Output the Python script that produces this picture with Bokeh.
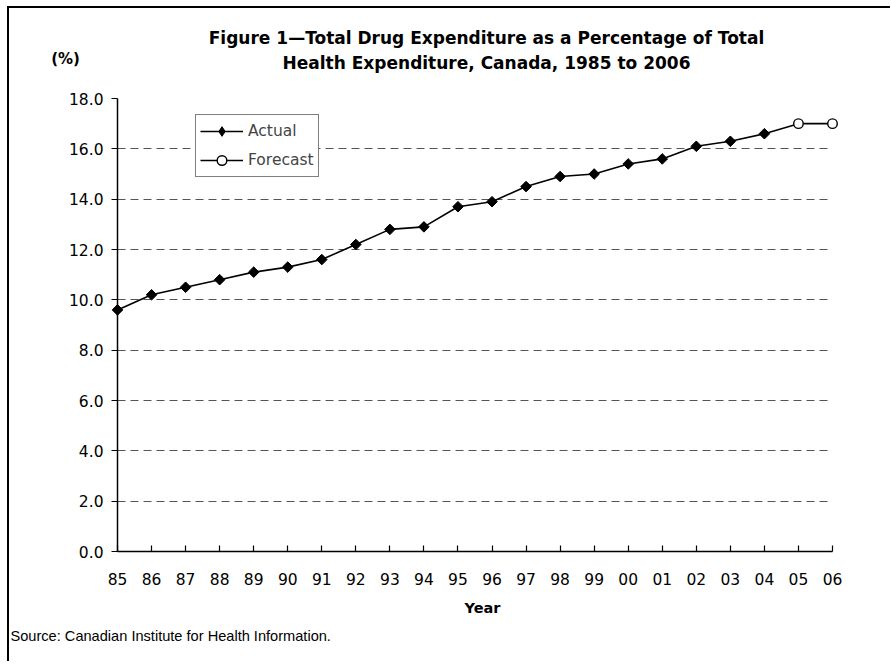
import math
from bokeh.plotting import figure
from bokeh.models import Range1d, FixedTicker, Legend, LegendItem
from bokeh.core.properties import value
from bokeh.embed import file_html
from bokeh.resources import INLINE

# ---- data ----
actual_years = list(range(1985, 2005))
actual_values = [9.6, 10.2, 10.5, 10.8, 11.1, 11.3, 11.6, 12.2, 12.8, 12.9,
                 13.7, 13.9, 14.5, 14.9, 15.0, 15.4, 15.6, 16.1, 16.3, 16.6]
forecast_years = [2005, 2006]
forecast_values = [17.0, 17.0]
x_ticks = list(range(1985, 2007))
x_tick_labels = ["85", "86", "87", "88", "89", "90", "91", "92", "93", "94", "95",
                 "96", "97", "98", "99", "00", "01", "02", "03", "04", "05", "06"]
y_ticks = [0, 2, 4, 6, 8, 10, 12, 14, 16, 18]
y_tick_labels = ["0.0", "2.0", "4.0", "6.0", "8.0", "10.0", "12.0", "14.0", "16.0", "18.0"]
title_lines = ["Figure 1\u2014Total Drug Expenditure as a Percentage of Total",
               "Health Expenditure, Canada, 1985 to 2006"]
y_unit_text = "(%)"
x_axis_title = "Year"
source_text = "Source: Canadian Institute for Health Information."

FONT = "DejaVu Sans"
X0, X1 = x_ticks[0], x_ticks[-1]
Y0, Y1 = y_ticks[0], y_ticks[-1]

# ---- layout (pixels) ----
FW, FH = 715, 453          # plot frame size
BL, BT = 108, 90           # borders left / top inside canvas
CX, CY = 9, 8              # canvas origin on the page (margin + outline)
FRAME_LEFT, FRAME_BOTTOM = CX + BL, CY + BT + FH


def page_to_data(px, py):
    """Convert a page-pixel position (for text placement) into data space."""
    dx = X0 + (px - FRAME_LEFT) / FW * (X1 - X0)
    dy = Y0 + (FRAME_BOTTOM - py) / FH * (Y1 - Y0)
    return dx, dy


p = figure(frame_width=FW, frame_height=FH,
           min_border_left=BL, min_border_right=58,
           min_border_top=BT, min_border_bottom=110,
           x_range=Range1d(X0, X1), y_range=Range1d(Y0, Y1),
           output_backend="svg", toolbar_location=None,
           background_fill_color="white", border_fill_color="white")
p.outline_line_color = None
p.styles = {"border-top": "2px solid black", "border-left": "2px solid black",
            "margin-left": "7px", "margin-top": "6px"}

# axes
p.xaxis.ticker = FixedTicker(ticks=x_ticks)
p.xaxis.major_label_overrides = {t: l for t, l in zip(x_ticks, x_tick_labels)}
p.yaxis.ticker = FixedTicker(ticks=y_ticks)
p.yaxis.major_label_overrides = {t: l for t, l in zip(y_ticks, y_tick_labels)}
for ax in (p.xaxis[0], p.yaxis[0]):
    ax.axis_line_color = "black"
    ax.axis_line_width = 1.5
    ax.major_tick_line_color = "black"
    ax.major_tick_line_width = 1.2
    ax.minor_tick_line_color = None
    ax.major_label_text_font = FONT
    ax.major_label_text_font_size = "15.5px"
    ax.major_label_text_color = "black"
p.xaxis.major_tick_in = 6
p.xaxis.major_tick_out = 0
p.xaxis.major_label_standoff = 21
p.yaxis.major_tick_in = 0
p.yaxis.major_tick_out = 6
p.yaxis.major_label_standoff = 8

# grid
p.xgrid.grid_line_color = None
p.ygrid.ticker = FixedTicker(ticks=y_ticks[1:])
p.ygrid.grid_line_color = "#555555"
p.ygrid.grid_line_width = 1
p.ygrid.grid_line_dash = "8 5"

# series
line_a = p.line(actual_years, actual_values, line_color="black", line_width=1.6, level="overlay")
# diamond glyph (gives the legend its diamond swatch; sits inside the rotated squares)
diam_a = p.scatter(actual_years, actual_values, marker="diamond", size=7,
                   fill_color="black", line_color="black", level="overlay")
pts_a = p.scatter(actual_years, actual_values, marker="square", angle=math.pi / 4, size=7.5,
                  fill_color="black", line_color="black", level="overlay")
line_f = p.line([actual_years[-1]] + forecast_years, [actual_values[-1]] + forecast_values,
                line_color="black", line_width=1.6, level="overlay")
pts_f = p.scatter(forecast_years, forecast_values, marker="circle", size=9.5,
                  fill_color="white", line_color="black", line_width=1.4, level="overlay")

legend = Legend(items=[LegendItem(label="Actual", renderers=[line_a, diam_a]),
                       LegendItem(label="Forecast", renderers=[line_f, pts_f])],
                location=(78, 374), orientation="vertical",
                border_line_color="black", border_line_width=1,
                background_fill_color="white", background_fill_alpha=1,
                label_text_font=FONT, label_text_font_size="15.5px",
                glyph_width=43, glyph_height=24, spacing=5, padding=4,
                label_standoff=5, margin=0)
p.add_layout(legend, "center")


# texts outside the frame (overlay level so they are not clipped)
def add_text(text, px, py, size, bold=False, align="center", font=FONT):
    x, y = page_to_data(px, py)
    p.text(x=[x], y=[y], text=[text], level="overlay",
           text_font=value(font), text_font_size=value(size),
           text_font_style="bold" if bold else "normal",
           text_align=align, text_baseline="middle", text_color="black")


add_text(title_lines[0], 486, 37, "17px", bold=True)
add_text(title_lines[1], 486, 62, "17px", bold=True)
add_text(y_unit_text, 65, 58, "15px", bold=True)
add_text(x_axis_title, 482, 607, "14.5px", bold=True)
add_text(source_text, 10, 635, "14.6px", align="left", font="Liberation Sans")

open("out.html", "w").write(file_html(p, INLINE))
